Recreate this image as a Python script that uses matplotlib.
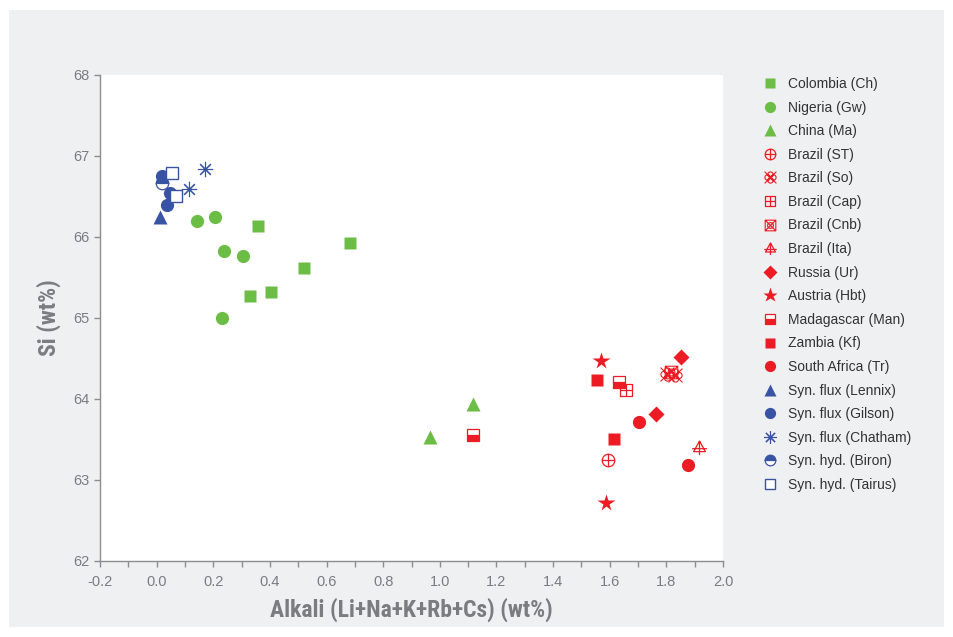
import matplotlib.pyplot as plt
import numpy as np
from matplotlib.path import Path
from matplotlib.patches import Rectangle

plt.rcParams['font.family'] = ['Liberation Sans', 'DejaVu Sans']
plt.rcParams['axes.unicode_minus'] = False

GREEN = '#6cbd45'
RED = '#ed1c24'
BLUE = '#3953a4'
GRAY = '#7b7c7f'

# data
colombia_x = [0.358, 0.683, 0.521, 0.404, 0.330]
colombia_y = [66.14, 65.93, 65.62, 65.32, 65.27]
nigeria_x = [0.143, 0.206, 0.238, 0.305, 0.231]
nigeria_y = [66.20, 66.25, 65.83, 65.77, 65.00]
china_x = [1.118, 0.966]
china_y = [63.94, 63.53]
st_x = [1.593]
st_y = [63.25]
so_x = [1.802, 1.832]
so_y = [64.31, 64.30]
cap_x = [1.659]
cap_y = [64.11]
cnb_x = [1.818]
cnb_y = [64.33]
ita_x = [1.917]
ita_y = [63.41]
russia_x = [1.853, 1.762]
russia_y = [64.52, 63.82]
austria_x = [1.568, 1.587]
austria_y = [64.47, 62.72]
madagascar_x = [1.118, 1.632]
madagascar_y = [63.55, 64.21]
zambia_x = [1.555, 1.614]
zambia_y = [64.23, 63.51]
safrica_x = [1.703, 1.875]
safrica_y = [63.72, 63.18]
lennix_x = [0.012]
lennix_y = [66.25]
gilson_x = [0.018, 0.047, 0.036]
gilson_y = [66.75, 66.54, 66.40]
chatham_x = [0.172, 0.113]
chatham_y = [66.84, 66.59]
biron_x = [0.018]
biron_y = [66.67]
tairus_x = [0.053, 0.067]
tairus_y = [66.79, 66.50]


def seg(p0, p1):
    return Path([p0, p1], [Path.MOVETO, Path.LINETO])


circ = Path.unit_circle()
square = Path([(-1, -1), (1, -1), (1, 1), (-1, 1), (-1, -1)],
              [Path.MOVETO, Path.LINETO, Path.LINETO, Path.LINETO, Path.CLOSEPOLY])
tri = Path([(0, 1.1), (1, -0.7), (-1, -0.7), (0, 1.1)],
           [Path.MOVETO, Path.LINETO, Path.LINETO, Path.CLOSEPOLY])

m_st = Path.make_compound_path(circ, seg((-1, 0), (1, 0)), seg((0, -1), (0, 1)))
m_cap = Path.make_compound_path(square, seg((-1, 0), (1, 0)), seg((0, -1), (0, 1)))
m_so = Path.make_compound_path(
    seg((-1, -1), (1, 1)), seg((-1, 1), (1, -1)),
    Path(circ.vertices * 0.45 + [0, 0.5], circ.codes),
    Path(circ.vertices * 0.45 + [0, -0.5], circ.codes),
    Path(circ.vertices * 0.45 + [0.5, 0], circ.codes),
    Path(circ.vertices * 0.45 + [-0.5, 0], circ.codes))
m_cnb = Path.make_compound_path(square, seg((-1, -1), (1, 1)), seg((-1, 1), (1, -1)),
                                Path(circ.vertices * 0.55, circ.codes))
m_ita = Path.make_compound_path(tri, seg((0, 1.1), (0, -1.3)), seg((-1.25, -0.2), (1.25, -0.2)))

fig = plt.figure(figsize=(9.54, 6.37), dpi=100, facecolor='white')
fig.patches.append(Rectangle((9 / 954, 10 / 637), 935 / 954, 617 / 637,
                             transform=fig.transFigure, facecolor='#eff0f2',
                             edgecolor='none', zorder=-10))
ax = fig.add_axes([100 / 954, 1 - 561 / 637, 623 / 954, 486 / 637])
ax.set_facecolor('white')

kw = dict(linestyle='none')
ax.plot(colombia_x, colombia_y, marker='s', ms=8, color=GREEN, mec='none', label='Colombia (Ch)', **kw)
ax.plot(nigeria_x, nigeria_y, marker='o', ms=9.5, color=GREEN, mec='none', label='Nigeria (Gw)', **kw)
ax.plot(china_x, china_y, marker='^', ms=10.5, color=GREEN, mec='none', label='China (Ma)', **kw)
ax.plot(st_x, st_y, marker=m_st, ms=9, mfc='none', mec=RED, mew=0.9, label='Brazil (ST)', **kw)
ax.plot(so_x, so_y, marker=m_so, ms=10, mfc='none', mec=RED, mew=0.8, label='Brazil (So)', **kw)
ax.plot(cap_x, cap_y, marker=m_cap, ms=8, mfc='none', mec=RED, mew=0.9, label='Brazil (Cap)', **kw)
ax.plot(cnb_x, cnb_y, marker=m_cnb, ms=9, mfc='none', mec=RED, mew=0.8, label='Brazil (Cnb)', **kw)
ax.plot(ita_x, ita_y, marker=m_ita, ms=11, mfc='none', mec=RED, mew=0.9, label='Brazil (Ita)', **kw)
ax.plot(russia_x, russia_y, marker='D', ms=8.5, color=RED, mec='none', label='Russia (Ur)', **kw)
ax.plot(austria_x, austria_y, marker='*', ms=13, color=RED, mec='none', label='Austria (Hbt)', **kw)
ax.plot(madagascar_x, madagascar_y, marker='s', ms=8, color=RED, mec=RED, mew=0.9,
        fillstyle='bottom', markerfacecoloralt='white', label='Madagascar (Man)', **kw)
ax.plot(zambia_x, zambia_y, marker='s', ms=8, color=RED, mec='none', label='Zambia (Kf)', **kw)
ax.plot(safrica_x, safrica_y, marker='o', ms=9.5, color=RED, mec='none', label='South Africa (Tr)', **kw)
ax.plot(lennix_x, lennix_y, marker='^', ms=10.5, color=BLUE, mec='none', label='Syn. flux (Lennix)', **kw)
ax.plot(gilson_x, gilson_y, marker='o', ms=9.5, color=BLUE, mec='none', label='Syn. flux (Gilson)', **kw)
ax.plot(chatham_x, chatham_y, marker=(8, 2, 0), ms=11, color=BLUE, mew=0.8, label='Syn. flux (Chatham)', **kw)
ax.plot(biron_x, biron_y, marker='o', ms=9, color=BLUE, mec=BLUE, mew=0.9,
        fillstyle='top', markerfacecoloralt='white', label='Syn. hyd. (Biron)', **kw)
ax.plot(tairus_x, tairus_y, marker='s', ms=8, mfc='white', mec=BLUE, mew=1.0, label='Syn. hyd. (Tairus)', **kw)

ax.set_xlim(-0.2, 2.0)
ax.set_ylim(62, 68)
ax.set_xticks(np.arange(-0.2, 2.01, 0.2))
ax.set_xticks(np.arange(-0.2, 2.01, 0.1), minor=True)
ax.set_xticklabels([f'{v:.1f}' for v in np.arange(-0.2, 2.01, 0.2)])
ax.set_yticks(np.arange(62, 68.1, 1))
for s in ['top', 'right']:
    ax.spines[s].set_visible(False)
for s in ['left', 'bottom']:
    ax.spines[s].set_color('#8c8d90')
    ax.spines[s].set_linewidth(1.0)
ax.tick_params(which='both', direction='out', length=4, width=1.0, color='#8c8d90',
               labelcolor=GRAY, labelsize=10.5)
ax.tick_params(axis='x', pad=6)

lab = dict(color=GRAY, fontweight='bold', fontsize=17, fontstretch='condensed',
           family=['DejaVu Sans Condensed', 'Roboto Condensed', 'Liberation Sans Narrow',
                   'Liberation Sans'])
ax.set_xlabel('Alkali (Li+Na+K+Rb+Cs) (wt%)', labelpad=6, **lab)
ax.set_ylabel('Si (wt%)', labelpad=9, **lab)

fig.legend(loc='upper left', bbox_to_anchor=(762 / 954, 1 - 77 / 637), frameon=False,
           fontsize=10, labelcolor='#333333', markerscale=0.85, handlelength=1.2,
           handletextpad=0.7, labelspacing=0.69, borderpad=0, borderaxespad=0)

fig.savefig('out.png', dpi=100, facecolor='white')
